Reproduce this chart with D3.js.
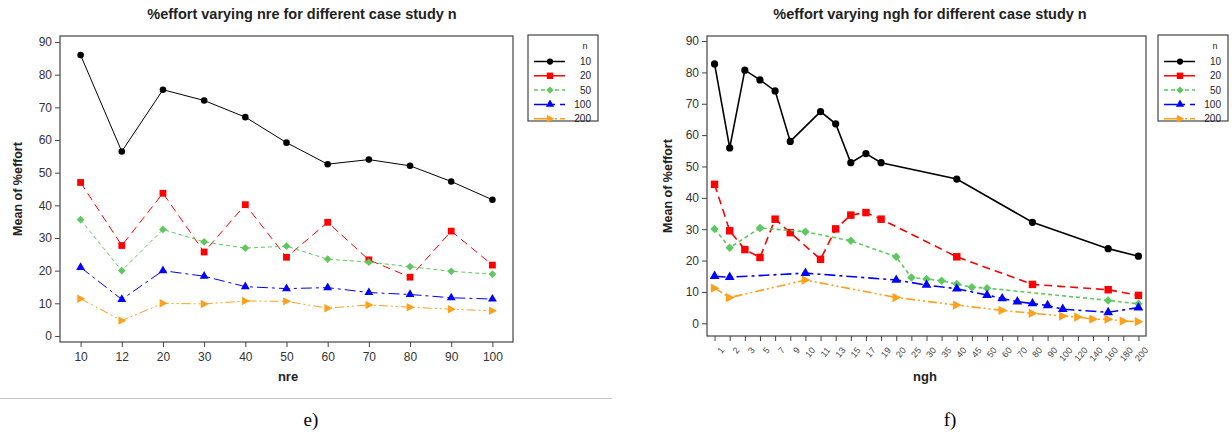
<!DOCTYPE html>
<html>
<head>
<meta charset="utf-8">
<script src="https://cdn.jsdelivr.net/npm/d3@7"></script>
<style>
body { margin: 0; background: #fff; }
text { font-family: "Liberation Sans", Arial, sans-serif; fill: #222; }
.frame { fill: none; stroke: #444; stroke-width: 1.2; }
.axis path { display: none; }
.axis line { stroke: #444; }
</style>
</head>
<body>
<div id="chart"></div>
<script>
// data
var nreCats = ["10","12","20","30","40","50","60","70","80","90","100"];
var nre10  = [86.0,56.5,75.4,72.1,67.0,59.2,52.6,54.0,52.1,47.3,41.7];
var nre20  = [47.0,27.7,43.7,25.7,40.2,24.1,34.8,23.3,18.0,32.1,21.7];
var nre50  = [35.6,20.0,32.6,28.8,26.9,27.5,23.5,22.6,21.2,19.8,18.9];
var nre100 = [21.0,11.2,20.0,18.3,15.1,14.5,14.8,13.3,12.7,11.7,11.3];
var nre200 = [11.4,4.7,10.0,9.8,10.7,10.6,8.5,9.5,8.8,8.2,7.7];

var nghCats = ["1","2","3","5","7","9","10","11","13","15","17","19","20","25","30","35","40","45","50","60","70","80","90","100","120","140","160","180","200"];
var ngh10  = [82.7,55.9,80.7,77.6,74.1,58.0,null,67.5,63.6,51.2,54.1,51.2,null,null,null,null,46.0,null,null,null,null,32.2,null,null,null,null,23.8,null,21.4];
var ngh20  = [44.3,29.5,23.5,21.0,33.2,28.9,null,20.4,30.1,34.5,35.3,33.2,null,null,null,null,21.2,null,null,null,null,12.4,null,null,null,null,10.7,null,8.9];
var ngh50  = [30.1,24.1,null,30.4,null,null,29.2,null,null,26.3,null,null,21.2,14.6,14.1,13.6,12.5,11.5,11.2,null,null,null,null,null,null,null,7.3,null,6.2];
var ngh100 = [15.0,14.7,null,null,null,null,16.0,null,null,null,null,null,13.8,null,12.2,null,11.0,null,9.0,7.9,6.9,6.3,5.7,4.5,null,null,3.5,null,5.0];
var ngh200 = [11.2,8.2,null,null,null,null,13.8,null,null,null,null,null,8.2,null,null,null,5.8,null,null,4.1,null,3.2,null,2.3,2.0,1.3,1.3,0.7,0.5];

var seriesNames = ["10","20","50","100","200"];
var yTicks = [0,10,20,30,40,50,60,70,80,90];

// look of each series (minitab style)
var styles = [
	{color: "#000000", dash: null,          shape: "circle"},
	{color: "#ff0000", dash: "8,5",         shape: "square"},
	{color: "#5ec85e", dash: "4,3",         shape: "diamond"},
	{color: "#0000ff", dash: "11,4,3,4",    shape: "triangle"},
	{color: "#ff9f1a", dash: "9,3,2,3,2,3", shape: "right"}
];

var W = 1232, H = 436;
var svg = d3.select("#chart").append("svg")
	.attr("width", W)
	.attr("height", H);

function markerPath(shape, s) {
	if (shape == "circle") return d3.symbol(d3.symbolCircle, 34 * s * s)();
	if (shape == "square") return d3.symbol(d3.symbolSquare, 46 * s * s)();
	if (shape == "diamond") return d3.symbol(d3.symbolSquare, 30 * s * s)();
	if (shape == "triangle") return d3.symbol(d3.symbolTriangle, 34 * s * s)();
	// right pointing triangle
	var a = 4.2 * s;
	return "M" + (-a * 0.8) + "," + (-a) + "L" + (a * 1.1) + ",0L" + (-a * 0.8) + "," + a + "Z";
}

function drawChart(cfg) {
	var g = svg.append("g");

	var x = d3.scalePoint()
		.domain(cfg.cats)
		.range([cfg.left, cfg.right])
		.padding(0.5);

	var y = d3.scaleLinear()
		.domain(cfg.ydom)
		.range([cfg.bottom, cfg.top]);

	// title
	g.append("text")
		.attr("x", cfg.titleX).attr("y", 19)
		.attr("text-anchor", "middle")
		.style("font-weight", "bold").style("font-size", "14.5px")
		.text(cfg.title);

	// y axis
	var yAxis = g.append("g")
		.attr("class", "axis")
		.attr("transform", "translate(" + cfg.left + ",0)")
		.call(d3.axisLeft(y).tickValues(yTicks).tickSize(5).tickPadding(3));
	yAxis.selectAll("text").style("font-size", "12px").style("fill", "#333");

	// x axis
	var xAxis = g.append("g")
		.attr("class", "axis")
		.attr("transform", "translate(0," + cfg.bottom + ")")
		.call(d3.axisBottom(x).tickSize(5).tickPadding(cfg.rotate ? 2 : 5));
	if (cfg.rotate) {
		xAxis.selectAll("text")
			.style("font-size", "9px").style("fill", "#444")
			.attr("text-anchor", "end")
			.attr("dy", "0.35em")
			.attr("transform", "translate(2,8) rotate(-50)");
	} else {
		xAxis.selectAll("text").style("font-size", "12px").style("fill", "#333");
	}

	// frame
	g.append("rect")
		.attr("class", "frame")
		.attr("x", cfg.left).attr("y", cfg.top)
		.attr("width", cfg.right - cfg.left)
		.attr("height", cfg.bottom - cfg.top);

	// axis titles
	g.append("text")
		.attr("x", cfg.xLabelX).attr("y", 381)
		.attr("text-anchor", "middle")
		.style("font-weight", "bold").style("font-size", "13px")
		.text(cfg.xLabel);
	g.append("text")
		.attr("transform", "translate(" + cfg.yLabelX + "," + (cfg.top + cfg.bottom) / 2 + ") rotate(-90)")
		.attr("text-anchor", "middle")
		.style("font-weight", "bold").style("font-size", "12.5px")
		.text("Mean of %effort");

	var line = d3.line()
		.x(function(d) { return x(d.c); })
		.y(function(d) { return y(d.v); });

	cfg.series.forEach(function(vals, i) {
		var st = styles[i];
		var pts = vals.map(function(v, j) { return {c: cfg.cats[j], v: v}; })
			.filter(function(d) { return d.v != null; });

		g.append("path")
			.datum(pts)
			.attr("d", line)
			.attr("fill", "none")
			.attr("stroke", st.color)
			.attr("stroke-width", cfg.lw)
			.attr("stroke-dasharray", st.dash);

		g.selectAll(".m" + i)
			.data(pts)
			.enter().append("path")
			.attr("d", markerPath(st.shape, cfg.ms))
			.attr("transform", function(d) {
				return "translate(" + x(d.c) + "," + y(d.v) + ")" + (st.shape == "diamond" ? " rotate(45)" : "");
			})
			.attr("fill", st.color);
	});

	// legend
	var lg = g.append("g");
	lg.append("rect")
		.attr("class", "frame")
		.attr("x", cfg.legX).attr("y", 35)
		.attr("width", 70).attr("height", 86);
	lg.append("text")
		.attr("x", cfg.legX + 57).attr("y", 49)
		.attr("text-anchor", "middle")
		.style("font-size", "9px")
		.text("n");
	seriesNames.forEach(function(name, i) {
		var st = styles[i];
		var ly = 61.5 + i * 14.3;
		lg.append("line")
			.attr("x1", cfg.legX + 6).attr("x2", cfg.legX + 37)
			.attr("y1", ly).attr("y2", ly)
			.attr("stroke", st.color)
			.attr("stroke-width", 1.5)
			.attr("stroke-dasharray", i == 0 || i == 1 ? null : (i == 2 ? "4,3" : (i == 3 ? "13,5,3,5" : "13,3,2,3,2,3")));
		lg.append("path")
			.attr("d", markerPath(st.shape, 0.95))
			.attr("transform", "translate(" + (cfg.legX + 22) + "," + ly + ")" + (st.shape == "diamond" ? " rotate(45)" : ""))
			.attr("fill", st.color);
		lg.append("text")
			.attr("x", cfg.legX + 63).attr("y", ly + 3.5)
			.attr("text-anchor", "end")
			.style("font-size", "10px")
			.text(name);
	});
}

drawChart({
	cats: nreCats, series: [nre10, nre20, nre50, nre100, nre200],
	left: 60, right: 513, top: 36, bottom: 342, ydom: [-1.85, 91.85],
	title: "%effort varying nre for different case study n", titleX: 302,
	xLabel: "nre", xLabelX: 288, yLabelX: 22, legX: 528,
	lw: 1, ms: 1, rotate: false
});

drawChart({
	cats: nghCats, series: [ngh10, ngh20, ngh50, ngh100, ngh200],
	left: 707, right: 1146, top: 36, bottom: 336, ydom: [-4.05, 91.6],
	title: "%effort varying ngh for different case study n", titleX: 930,
	xLabel: "ngh", xLabelX: 925, yLabelX: 672, legX: 1158,
	lw: 1.6, ms: 1.1, rotate: true
});

// figure captions
svg.append("line")
	.attr("x1", 0).attr("x2", 612)
	.attr("y1", 398.5).attr("y2", 398.5)
	.attr("stroke", "#c6c6c6").attr("stroke-width", 1);
svg.append("text")
	.attr("x", 311).attr("y", 426)
	.attr("text-anchor", "middle")
	.style("font-family", "'Liberation Serif', 'Times New Roman', serif")
	.style("font-size", "19px").style("fill", "#000")
	.text("e)");
svg.append("text")
	.attr("x", 950).attr("y", 426)
	.attr("text-anchor", "middle")
	.style("font-family", "'Liberation Serif', 'Times New Roman', serif")
	.style("font-size", "19px").style("fill", "#000")
	.text("f)");
</script>
</body>
</html>
